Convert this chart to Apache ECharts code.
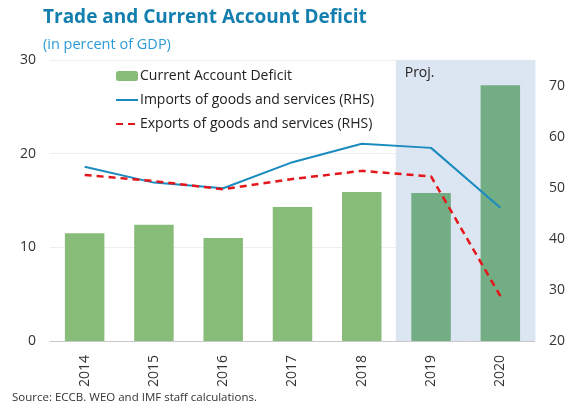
<!DOCTYPE html>
<html>
<head>
<meta charset="utf-8">
<script src="https://cdn.jsdelivr.net/npm/echarts@6/dist/echarts.min.js"></script>
<style>
  html, body { margin: 0; padding: 0; background: #fff; }
  #chart { width: 568px; height: 404px; }
</style>
</head>
<body>
<div id="chart"></div>
<script>
var years = ['2014', '2015', '2016', '2017', '2018', '2019', '2020'];
var caDeficit = [11.5, 12.4, 11.0, 14.3, 15.9, 15.8, 27.3];
var imports = [54.1, 51.0, 49.9, 55.0, 58.6, 57.8, 46.1];
var exports = [52.5, 51.3, 49.7, 51.7, 53.3, 52.2, 28.8];
// projection years get the shaded band
var projShade = ['-', '-', '-', '-', '-', 30, 30];

var font = 'Open Sans';
var chart = echarts.init(document.getElementById('chart'));

var option = {
    animation: false,
    textStyle: { fontFamily: font },
    title: [
        {
            text: 'Trade and Current Account Deficit',
            left: 38, top: 3,
            textStyle: { fontFamily: font, fontSize: 19, fontWeight: 'bold', color: '#137fae' }
        },
        {
            text: '(in percent of GDP)',
            left: 38, top: 32,
            textStyle: { fontFamily: font, fontSize: 14.5, fontWeight: 'normal', color: '#2a9bd6' }
        },
        {
            text: 'Source: ECCB. WEO and IMF staff calculations.',
            left: 7, bottom: -5,
            textStyle: { fontFamily: font, fontSize: 11.5, fontWeight: 'normal', color: '#333' }
        }
    ],
    legend: {
        orient: 'vertical',
        left: 110, top: 64,
        itemWidth: 22, itemHeight: 10, itemGap: 10,
        textStyle: { fontFamily: font, fontSize: 14, color: '#222', padding: [0, 0, 0, -3] },
        data: [
            'Current Account Deficit',
            { name: 'Imports of goods and services (RHS)', itemStyle: { opacity: 0 } },
            { name: 'Exports of goods and services (RHS)', itemStyle: { opacity: 0 } }
        ]
    },
    grid: { left: 50, right: 32, top: 60, bottom: 63 },
    xAxis: [
        {
            type: 'category',
            data: years,
            axisLine: { lineStyle: { color: '#c8c8c8' } },
            axisTick: { inside: true, length: 4, lineStyle: { color: '#c8c8c8' } },
            axisLabel: { rotate: 90, fontSize: 14, color: '#333', margin: 14 }
        },
        {
            type: 'category',
            data: years,
            show: false
        }
    ],
    yAxis: [
        {
            type: 'value', min: 0, max: 30, interval: 10,
            axisLabel: { fontSize: 14, color: '#333', margin: 14 },
            splitLine: { lineStyle: { color: '#eeeeee' } }
        },
        {
            type: 'value', min: 20, max: 75, interval: 10,
            axisLabel: { fontSize: 14, color: '#333', margin: 14, showMaxLabel: false },
            splitLine: { show: false }
        }
    ],
    series: [
        {
            name: 'shade',
            type: 'bar',
            xAxisIndex: 1,
            data: projShade,
            barWidth: '102%',
            z: 1,
            silent: true,
            itemStyle: { color: '#dce6f2', borderColor: '#dce6f2', borderWidth: 1 },
            label: {
                show: true,
                position: 'insideTopLeft',
                offset: [4, 1],
                fontSize: 14,
                color: '#222',
                formatter: function (p) { return p.dataIndex === 5 ? 'Proj.' : ''; }
            }
        },
        {
            name: 'Current Account Deficit',
            type: 'bar',
            data: caDeficit.map(function (v, i) {
                return projShade[i] === '-' ? v : { value: v, itemStyle: { color: '#72ad83' } };
            }),
            barWidth: '57%',
            z: 2,
            itemStyle: { color: '#88bc79' }
        },
        {
            name: 'Imports of goods and services (RHS)',
            type: 'line',
            yAxisIndex: 1,
            data: imports,
            symbol: 'none',
            z: 3,
            lineStyle: { color: '#1a8bbf', width: 2 },
            itemStyle: { color: '#1a8bbf' }
        },
        {
            name: 'Exports of goods and services (RHS)',
            type: 'line',
            yAxisIndex: 1,
            data: exports,
            symbol: 'none',
            z: 4,
            lineStyle: { color: '#e3161c', width: 2.5, type: [7, 5] },
            itemStyle: { color: '#e3161c' }
        }
    ]
};

chart.setOption(option);
</script>
</body>
</html>
